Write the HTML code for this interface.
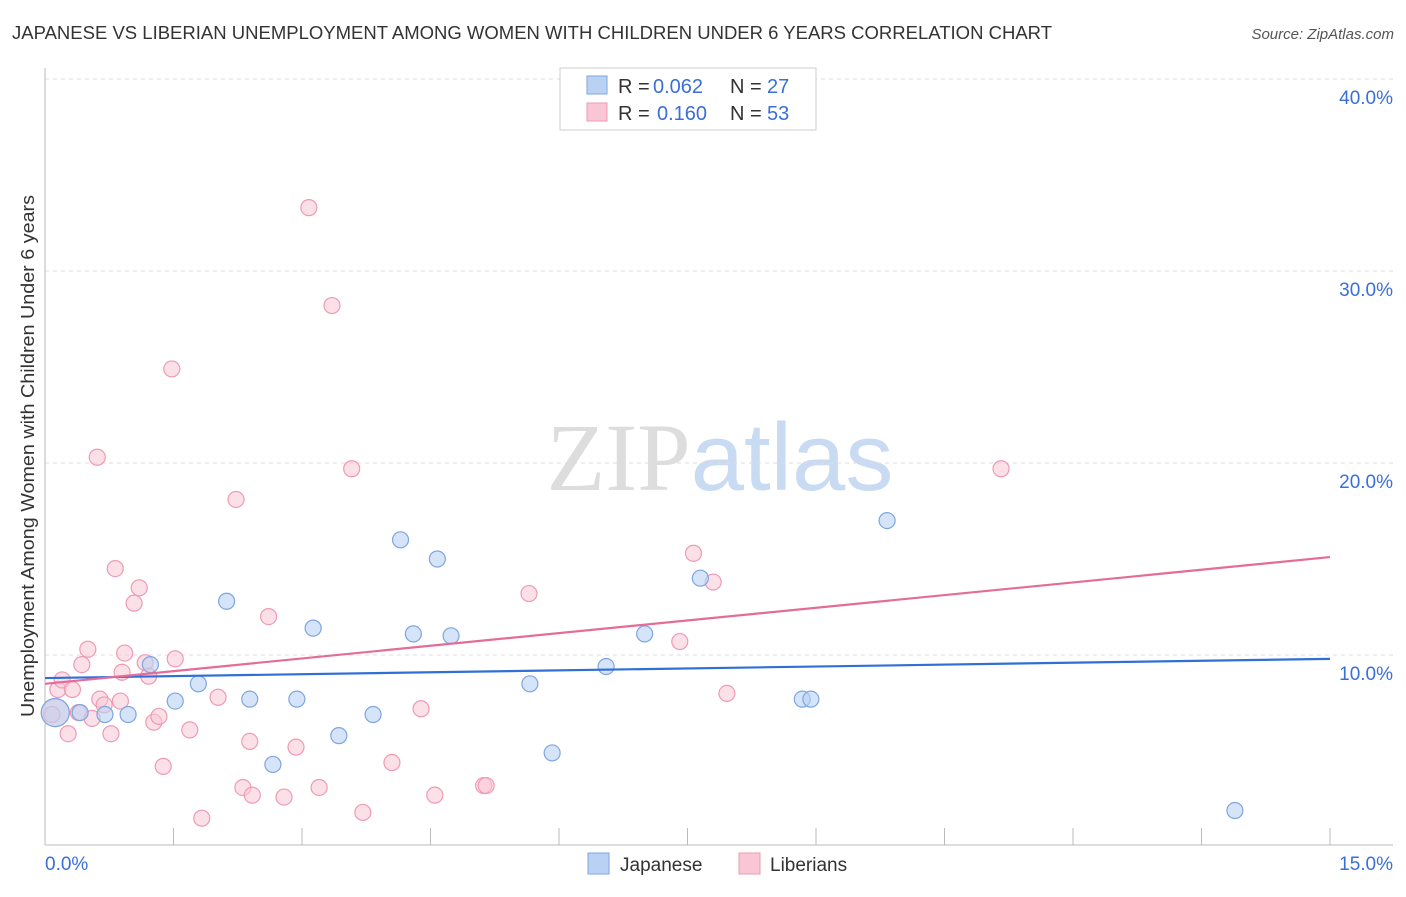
<!DOCTYPE html>
<html><head><meta charset="utf-8"><style>
body{margin:0;background:#fff;font-family:"Liberation Sans",sans-serif;}
svg text{font-family:"Liberation Sans",sans-serif;}
</style></head><body>
<svg id="chart" width="1406" height="892" xmlns="http://www.w3.org/2000/svg">
<text x="12" y="39" font-size="18" fill="#333" textLength="1040" lengthAdjust="spacingAndGlyphs">JAPANESE VS LIBERIAN UNEMPLOYMENT AMONG WOMEN WITH CHILDREN UNDER 6 YEARS CORRELATION CHART</text>
<text x="1394" y="39" font-size="15" fill="#555" text-anchor="end" font-style="italic">Source: ZipAtlas.com</text>
<text x="720" y="490" font-size="96" text-anchor="middle"><tspan fill="#ddd" font-family="Liberation Serif">ZIP</tspan><tspan fill="#c9daf3">atlas</tspan></text>
<text transform="translate(34,456) rotate(-90)" font-size="18" fill="#333" text-anchor="middle" textLength="522" lengthAdjust="spacingAndGlyphs">Unemployment Among Women with Children Under 6 years</text>
<g id="grid"></g><g id="axes"></g><g id="marks"></g>
<g>
<rect x="560" y="68" width="256" height="62" fill="#fff" stroke="#ccc"/>
<rect x="587" y="76" width="20" height="18" fill="#b9d2f4" stroke="#7ea6e0"/>
<rect x="587" y="103" width="20" height="18" fill="#f9c6d6" stroke="#ef9ab5"/>
<text x="618" y="93" font-size="20" fill="#333">R =</text>
<text x="653" y="93" font-size="20" fill="#3a6fd8">0.062</text>
<text x="730" y="93" font-size="20" fill="#333">N =</text>
<text x="767" y="93" font-size="20" fill="#3a6fd8">27</text>
<text x="618" y="120" font-size="20" fill="#333">R =</text>
<text x="657" y="120" font-size="20" fill="#3a6fd8">0.160</text>
<text x="730" y="120" font-size="20" fill="#333">N =</text>
<text x="767" y="120" font-size="20" fill="#3a6fd8">53</text>
</g>
<g>
<rect x="588" y="853" width="21" height="21" fill="#b9d2f4" stroke="#7ea6e0"/>
<text x="620" y="871" font-size="19" fill="#333">Japanese</text>
<rect x="739" y="853" width="21" height="21" fill="#f9c6d6" stroke="#ef9ab5"/>
<text x="770" y="871" font-size="19" fill="#333">Liberians</text>
</g>
</svg>
<script>
const yTicks=[10,20,30,40];
const yTickLabels=["10.0%","20.0%","30.0%","40.0%"];
const japX=[0.12,0.41,0.70,0.97,1.23,1.52,1.79,2.12,2.39,2.66,2.94,3.13,3.43,3.83,4.15,4.30,4.58,4.74,5.66,5.92,6.55,7.0,7.65,8.84,8.94,9.83,13.89];
const japY=[7.0,7.0,6.9,6.9,9.5,7.6,8.5,12.8,7.7,4.3,7.7,11.4,5.8,6.9,16.0,11.1,15.0,11.0,8.5,4.9,9.4,11.1,14.0,7.7,7.7,17.0,1.9];
const libX=[0.12,0.08,0.15,0.20,0.27,0.32,0.43,0.39,0.50,0.55,0.61,0.64,0.69,0.77,0.82,0.90,0.93,1.04,1.10,1.17,1.21,1.27,1.33,1.38,1.48,1.52,1.69,1.83,2.02,2.23,2.31,2.39,2.42,2.61,2.79,2.93,3.08,3.20,3.35,3.58,3.71,4.05,4.39,4.55,5.12,5.15,5.65,7.41,7.57,7.80,7.96,11.16,0.88];
const libY=[7.0,6.9,8.2,8.7,5.9,8.2,9.5,7.0,10.3,6.7,20.3,7.7,7.4,5.9,14.5,9.1,10.1,12.7,13.5,9.6,8.9,6.5,6.8,4.2,24.9,9.8,6.1,1.5,7.8,18.1,3.1,5.5,2.7,12.0,2.6,5.2,33.3,3.1,28.2,19.7,1.8,4.4,7.2,2.7,3.2,3.2,13.2,10.7,15.3,13.8,8.0,19.7,7.6];
const japLine=[8.8,9.8], libLine=[8.5,15.1];
const X=v=>45+v/15*1285, Y=v=>847-v*19.2;
const NS="http://www.w3.org/2000/svg";
function mk(p,t,a){const e=document.createElementNS(NS,t);for(const k in a)e.setAttribute(k,a[k]);document.getElementById(p).appendChild(e);return e;}
yTicks.forEach((t,i)=>{
 const g=mk('grid','line',{x1:45,x2:1393,y1:Y(t),y2:Y(t),stroke:'#ddd','stroke-dasharray':'4,4'});
 
 
 const l=mk('axes','text',{x:1393,y:Y(t)+25,'font-size':19,fill:'#3a6fd8','text-anchor':'end'});
 l.textContent=yTickLabels[i];
 
 
});
mk('axes','line',{x1:45,x2:45,y1:68,y2:845,stroke:'#bbb'});
mk('axes','line',{x1:45,x2:1393,y1:845,y2:845,stroke:'#bbb'});
for(let i=1;i<=10;i++){const x=X(i*1.5);mk('axes','line',{x1:x,x2:x,y1:828,y2:845,stroke:'#bbb'});}
const x0=mk('axes','text',{x:45,y:870,'font-size':19,fill:'#3a6fd8'});x0.textContent="0.0%";


const x1=mk('axes','text',{x:1393,y:870,'font-size':19,fill:'#3a6fd8','text-anchor':'end'});x1.textContent="15.0%";


libX.forEach((v,i)=>{const c=mk('marks','circle',{cx:X(v),cy:Y(libY[i]),r:i==0?14:8,fill:'#f9c6d6','fill-opacity':0.55,stroke:'#ef9ab5','stroke-width':1.2});
 
 });
japX.forEach((v,i)=>{const c=mk('marks','circle',{cx:X(v),cy:Y(japY[i]),r:i==0?14:8,fill:'#b9d2f4','fill-opacity':0.6,stroke:'#7ea6e0','stroke-width':1.2});
 
 });
const lj=mk('marks','line',{x1:X(0),x2:X(15),y1:Y(japLine[0]),y2:Y(japLine[1]),stroke:'#2f6fd6','stroke-width':2.2});


const ll=mk('marks','line',{x1:X(0),x2:X(15),y1:Y(libLine[0]),y2:Y(libLine[1]),stroke:'#e46c98','stroke-width':2.2});


</script>
</body></html>
